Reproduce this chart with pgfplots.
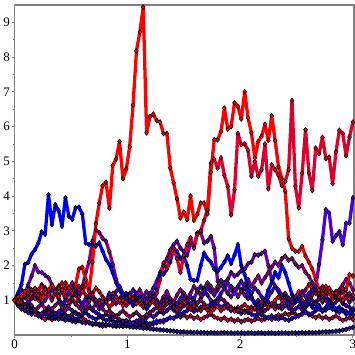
\documentclass[border=0pt]{standalone}
\usepackage{fontspec}
\setmainfont{Liberation Serif}
\usepackage{pgfplots}
\pgfplotsset{compat=1.18}
\definecolor{cA}{rgb}{1,0,0}
\definecolor{cB}{rgb}{0.86,0,0.18}
\definecolor{cC}{rgb}{0,0,1}
\definecolor{cD}{rgb}{0.55,0,0.5}
\definecolor{cE}{rgb}{0.42,0,0.68}
\definecolor{cF}{rgb}{0.3,0,0.85}
\definecolor{cG}{rgb}{0.12,0.08,0.55}
\definecolor{cH}{rgb}{0.78,0,0.3}
\definecolor{cI}{rgb}{0.6,0,0.42}
\definecolor{cJ}{rgb}{0.3,0,0.75}
\definecolor{cK}{rgb}{0.85,0,0.15}
\definecolor{cL}{rgb}{0.15,0,0.9}
\pgfplotsset{ser/.style={line width=3.3pt, color=#1, line join=round, mark=diamond*, mark size=2.5pt, mark options={draw=black, fill=#1, line width=0.55pt, solid}}}
\newcommand{\ser}[2]{\addplot[ser=#1] table[x expr=\coordindex*0.03, y index=0, header=false, row sep=\\] {#2\\};}
\begin{document}
\begin{tikzpicture}
\begin{axis}[scale only axis, width=339.3pt, height=330pt,
  xmin=0, xmax=3.01, ymin=0, ymax=9.5,
  axis line style={draw=gray, line width=1.3pt},
  xtick={0,1,2,3}, ytick={1,2,3,4,5,6,7,8,9},
  minor tick num=1, xtick pos=bottom, ytick pos=left, tick align=outside,
  major tick length=3pt, minor tick length=2pt,
  tick style={gray, line width=0.8pt},
  /pgf/number format/assume math mode=true,
  ticklabel style={font=\fontsize{13}{15}\selectfont, inner sep=1.5pt}]
\ser{cH}{1.00\\0.90\\0.95\\0.80\\0.85\\0.70\\0.60\\0.55\\0.50\\0.45\\
0.50\\0.44\\0.48\\0.55\\0.62\\0.58\\0.52\\0.60\\0.65\\0.59\\
0.50\\0.42\\0.35\\0.30\\0.32\\0.28\\0.25\\0.27\\0.30\\0.26\\
0.25\\0.28\\0.26\\0.30\\0.27\\0.25\\0.28\\0.30\\0.27\\0.25\\
0.28\\0.32\\0.35\\0.40\\0.38\\0.45\\0.50\\0.48\\0.55\\0.52\\
0.58\\0.50\\0.55\\0.48\\0.52\\0.45\\0.50\\0.55\\0.60\\0.52\\
0.48\\0.45\\0.50\\0.42\\0.46\\0.40\\0.44\\0.38\\0.42\\0.45\\
0.40\\0.44\\0.48\\0.42\\0.46\\0.50\\0.45\\0.52\\0.58\\0.55\\
0.62\\0.58\\0.65\\0.60\\0.55\\0.62\\0.68\\0.60\\0.55\\0.50\\
0.55\\0.48\\0.52\\0.45\\0.50\\0.55\\0.48\\0.42\\0.46\\0.50\\0.45}
\ser{cG}{1.00\\0.85\\0.90\\0.75\\0.80\\0.70\\0.72\\0.62\\0.58\\0.65\\
0.55\\0.49\\0.52\\0.45\\0.48\\0.42\\0.44\\0.40\\0.38\\0.41\\
0.36\\0.35\\0.37\\0.33\\0.34\\0.31\\0.32\\0.29\\0.30\\0.27\\
0.28\\0.26\\0.25\\0.26\\0.24\\0.23\\0.22\\0.21\\0.20\\0.19\\
0.18\\0.17\\0.16\\0.15\\0.14\\0.13\\0.12\\0.11\\0.10\\0.09\\
0.09\\0.08\\0.08\\0.07\\0.08\\0.07\\0.07\\0.06\\0.07\\0.06\\
0.06\\0.06\\0.07\\0.06\\0.06\\0.05\\0.06\\0.06\\0.05\\0.06\\
0.06\\0.05\\0.06\\0.06\\0.05\\0.06\\0.06\\0.05\\0.06\\0.06\\
0.06\\0.05\\0.06\\0.06\\0.06\\0.07\\0.06\\0.07\\0.07\\0.07\\
0.08\\0.08\\0.09\\0.09\\0.10\\0.11\\0.12\\0.14\\0.16\\0.19\\0.22}
\ser{cL}{1.00\\0.85\\0.75\\0.88\\0.95\\0.80\\0.70\\0.62\\0.55\\0.60\\
0.68\\0.60\\0.52\\0.58\\0.65\\0.55\\0.48\\0.52\\0.45\\0.50\\
0.58\\0.65\\0.55\\0.50\\0.45\\0.52\\0.48\\0.42\\0.45\\0.40\\
0.36\\0.40\\0.35\\0.32\\0.30\\0.33\\0.30\\0.34\\0.38\\0.35\\
0.32\\0.36\\0.40\\0.38\\0.42\\0.45\\0.50\\0.48\\0.55\\0.60\\
0.65\\0.70\\0.75\\0.68\\0.72\\0.80\\0.85\\0.78\\0.90\\0.95\\
0.88\\0.80\\0.85\\0.78\\0.70\\0.75\\0.68\\0.62\\0.70\\0.65\\
0.60\\0.55\\0.62\\0.58\\0.52\\0.50\\0.55\\0.48\\0.45\\0.50\\
0.45\\0.42\\0.48\\0.52\\0.55\\0.60\\0.65\\0.58\\0.62\\0.70\\
0.75\\0.68\\0.72\\0.80\\0.75\\0.70\\0.65\\0.72\\0.68\\0.62\\0.58}
\ser{cJ}{1.00\\0.90\\0.80\\0.70\\0.65\\0.60\\0.68\\0.58\\0.62\\0.72\\
0.80\\0.70\\0.62\\0.68\\0.75\\0.85\\0.78\\0.70\\0.62\\0.55\\
0.62\\0.70\\0.80\\0.72\\0.65\\0.58\\0.52\\0.60\\0.55\\0.48\\
0.52\\0.45\\0.40\\0.42\\0.38\\0.35\\0.40\\0.45\\0.42\\0.50\\
0.58\\0.52\\0.60\\0.68\\0.62\\0.70\\0.80\\0.72\\0.65\\0.75\\
0.85\\0.95\\1.10\\1.00\\0.90\\1.05\\1.20\\1.35\\1.25\\1.15\\
1.30\\1.45\\1.35\\1.20\\1.10\\1.25\\1.40\\1.30\\1.15\\1.05\\
1.20\\1.35\\1.25\\1.10\\1.00\\0.95\\0.85\\0.90\\0.80\\0.75\\
0.85\\0.78\\0.70\\0.75\\0.82\\0.72\\0.80\\0.90\\0.85\\0.95\\
1.05\\0.95\\1.10\\1.00\\0.88\\0.95\\1.05\\0.90\\0.85\\0.80\\0.70}
\ser{cI}{1.00\\1.10\\0.90\\0.80\\0.95\\0.85\\0.70\\0.80\\0.90\\0.75\\
0.65\\0.75\\0.85\\0.95\\0.80\\0.70\\0.85\\1.00\\0.90\\0.80\\
0.70\\0.80\\0.95\\1.10\\1.00\\0.85\\0.75\\0.65\\0.70\\0.60\\
0.55\\0.62\\0.70\\0.60\\0.52\\0.58\\0.65\\0.55\\0.50\\0.58\\
0.65\\0.72\\0.80\\0.70\\0.78\\0.90\\1.00\\0.92\\0.85\\0.95\\
1.05\\0.95\\0.88\\0.80\\0.92\\1.00\\0.90\\0.82\\0.75\\0.85\\
0.95\\1.05\\0.98\\0.88\\0.80\\0.72\\0.80\\0.70\\0.65\\0.72\\
0.80\\0.75\\0.68\\0.62\\0.70\\0.78\\0.85\\0.75\\0.82\\0.90\\
1.00\\0.92\\0.85\\0.95\\1.10\\1.00\\0.90\\1.05\\1.15\\1.25\\
1.10\\1.00\\1.15\\1.30\\1.20\\1.05\\1.15\\1.25\\1.10\\0.95\\1.05}
\ser{cK}{1.00\\1.15\\1.30\\1.20\\1.40\\1.25\\1.10\\1.30\\1.45\\1.35\\
1.20\\1.05\\1.25\\1.40\\1.50\\1.35\\1.20\\1.10\\1.25\\1.40\\
1.30\\1.15\\1.00\\1.20\\1.35\\1.25\\1.10\\0.95\\1.05\\1.20\\
1.10\\0.95\\1.00\\0.85\\0.95\\1.10\\1.00\\0.90\\0.80\\0.92\\
1.05\\0.95\\0.85\\0.78\\0.90\\1.00\\0.88\\0.80\\0.72\\0.85\\
0.95\\0.82\\0.75\\0.85\\0.78\\0.70\\0.80\\0.72\\0.65\\0.75\\
0.82\\0.70\\0.78\\0.85\\0.75\\0.68\\0.72\\0.80\\0.88\\0.78\\
0.70\\0.78\\0.85\\0.95\\0.88\\0.80\\0.90\\1.00\\1.10\\1.00\\
1.15\\1.05\\0.95\\1.10\\1.25\\1.15\\1.30\\1.45\\1.35\\1.20\\
1.30\\1.40\\1.25\\1.35\\1.20\\1.10\\1.25\\1.35\\1.20\\1.05\\1.15}
\ser{cD}{1.00\\0.90\\1.05\\1.20\\1.10\\1.30\\1.15\\1.00\\1.20\\1.35\\
1.20\\1.05\\1.25\\1.40\\1.30\\1.15\\1.35\\1.50\\1.30\\1.20\\
1.40\\1.80\\2.10\\2.70\\3.03\\2.95\\2.78\\2.70\\2.40\\2.03\\
1.60\\1.30\\1.10\\1.05\\1.20\\1.00\\1.15\\1.30\\1.10\\0.95\\
1.05\\1.20\\1.00\\0.90\\1.10\\1.25\\1.05\\0.95\\1.15\\1.30\\
1.20\\1.05\\1.20\\1.40\\1.30\\1.15\\1.35\\1.50\\1.40\\1.25\\
1.40\\1.55\\1.35\\1.20\\1.40\\1.30\\1.10\\1.25\\1.45\\1.60\\
1.40\\1.55\\1.70\\1.50\\1.65\\1.80\\1.95\\2.10\\2.00\\2.20\\
2.27\\2.15\\2.20\\2.05\\1.95\\2.00\\1.80\\1.69\\1.50\\1.30\\
1.20\\1.35\\1.10\\1.25\\1.05\\1.15\\1.30\\1.45\\1.60\\1.50\\1.30}
\ser{cE}{1.00\\1.10\\0.95\\1.20\\1.45\\1.70\\2.00\\1.82\\1.80\\1.72\\
1.65\\1.45\\1.30\\1.15\\1.25\\1.05\\0.95\\1.10\\1.20\\1.00\\
0.90\\1.05\\0.85\\0.75\\0.90\\1.00\\0.85\\0.95\\1.10\\1.00\\
0.90\\1.05\\1.20\\1.10\\0.95\\1.05\\1.15\\1.00\\1.10\\1.25\\
1.15\\1.35\\1.55\\1.80\\2.00\\2.20\\2.45\\2.60\\2.70\\2.50\\
2.40\\2.30\\2.65\\2.55\\2.94\\2.96\\2.65\\2.70\\2.84\\2.50\\
1.55\\1.57\\1.50\\1.60\\1.80\\1.70\\1.75\\1.85\\1.90\\2.05\\
2.10\\2.31\\2.30\\2.35\\2.41\\2.00\\1.60\\1.40\\1.25\\1.10\\
1.20\\1.05\\0.95\\1.10\\1.00\\0.85\\0.95\\1.10\\1.00\\0.90\\
1.05\\1.15\\1.00\\0.90\\1.10\\1.25\\1.05\\0.95\\1.10\\1.20\\1.05}
\ser{cF}{1.00\\1.15\\1.30\\1.10\\0.95\\1.05\\1.25\\1.10\\0.90\\1.00\\
1.15\\1.30\\1.20\\1.05\\0.90\\1.00\\1.20\\1.35\\1.15\\1.00\\
0.85\\1.00\\1.15\\1.05\\0.90\\0.75\\0.85\\1.00\\1.20\\1.10\\
1.25\\1.40\\1.20\\1.05\\1.15\\1.30\\1.20\\1.00\\0.90\\1.05\\
1.20\\1.10\\0.95\\0.85\\1.00\\1.10\\0.95\\0.80\\0.90\\1.05\\
1.20\\1.00\\0.90\\1.05\\1.25\\1.40\\1.30\\1.15\\1.00\\0.90\\
1.05\\1.20\\1.35\\1.50\\1.30\\1.20\\1.40\\1.55\\1.35\\1.20\\
1.05\\0.90\\1.00\\0.85\\0.95\\1.10\\1.25\\1.40\\1.30\\1.15\\
1.00\\0.90\\1.05\\0.95\\1.10\\1.25\\1.10\\1.20\\1.30\\1.40\\
2.03\\2.74\\3.61\\3.51\\2.70\\2.86\\2.98\\2.60\\3.22\\3.22\\3.95}
\ser{cC}{1.02\\1.21\\1.45\\2.03\\2.09\\2.33\\2.46\\2.65\\2.97\\2.90\\
4.04\\3.18\\3.75\\3.58\\3.13\\3.95\\3.42\\3.33\\3.66\\3.68\\
3.48\\2.65\\2.60\\2.60\\2.56\\2.65\\2.41\\2.17\\2.03\\1.79\\
1.50\\1.30\\1.16\\1.20\\1.00\\0.85\\0.95\\1.10\\0.90\\0.75\\
0.90\\1.02\\1.30\\1.74\\1.75\\1.90\\2.10\\2.50\\2.40\\2.20\\
2.27\\2.00\\1.60\\1.57\\1.58\\2.00\\2.36\\2.20\\2.10\\1.90\\
1.83\\1.95\\2.10\\2.28\\2.06\\2.30\\2.60\\2.00\\1.74\\1.40\\
1.10\\0.92\\0.80\\0.73\\1.00\\1.30\\1.50\\1.80\\1.65\\2.00\\
1.80\\1.50\\1.16\\0.95\\1.00\\0.90\\0.85\\0.95\\0.80\\0.75\\
0.85\\0.70\\0.80\\0.95\\0.85\\0.75\\0.80\\0.70\\0.60\\0.64\\0.75}
\ser{cB}{1.00\\1.10\\0.95\\1.15\\1.30\\1.20\\1.05\\1.25\\1.40\\1.30\\
1.15\\1.00\\1.20\\1.35\\1.25\\1.10\\0.95\\1.05\\0.90\\1.10\\
1.25\\1.45\\1.30\\1.15\\1.00\\0.90\\1.05\\0.95\\0.80\\0.90\\
1.10\\1.00\\0.85\\0.95\\1.10\\1.05\\0.90\\1.00\\0.85\\0.95\\
0.90\\1.00\\1.20\\1.60\\2.07\\1.90\\2.30\\2.50\\2.20\\1.80\\
2.30\\2.60\\2.80\\2.50\\2.90\\3.00\\3.30\\3.60\\4.95\\5.06\\
4.80\\5.10\\4.60\\4.28\\3.46\\4.18\\5.80\\5.48\\5.50\\5.32\\
4.57\\5.00\\4.57\\4.76\\5.50\\4.21\\4.90\\4.76\\4.60\\4.30\\
4.42\\4.76\\6.75\\4.28\\3.66\\4.66\\5.91\\4.66\\4.16\\5.38\\
5.22\\5.69\\5.08\\5.12\\4.36\\5.27\\5.89\\5.80\\5.16\\5.70\\6.13}
\ser{cA}{1.00\\0.95\\1.10\\1.25\\1.05\\1.20\\1.35\\1.15\\1.00\\1.20\\
1.30\\1.45\\1.25\\1.10\\1.30\\1.50\\1.35\\1.20\\1.45\\1.90\\
1.95\\1.60\\1.25\\2.10\\3.20\\3.80\\4.30\\4.40\\3.65\\4.88\\
5.07\\5.57\\4.50\\4.78\\5.42\\6.62\\8.18\\8.72\\9.44\\5.82\\
6.29\\6.36\\6.17\\6.13\\5.80\\5.80\\4.81\\4.38\\3.92\\3.37\\
3.54\\3.32\\4.00\\3.30\\3.48\\3.80\\3.80\\3.49\\4.69\\5.62\\
5.62\\5.86\\6.53\\5.93\\6.00\\6.68\\6.58\\6.22\\7.00\\6.25\\
5.82\\5.10\\5.57\\5.72\\6.07\\5.60\\6.31\\5.60\\4.84\\4.50\\
4.14\\2.77\\2.50\\2.41\\2.41\\2.55\\2.27\\2.10\\1.90\\1.60\\
1.30\\1.20\\1.40\\1.25\\1.02\\1.20\\1.10\\1.00\\1.30\\1.74\\1.70}
\end{axis}
\pgfresetboundingbox
\path[use as bounding box] (-14.7pt,-19.6pt) rectangle (340.3pt,335pt);
\end{tikzpicture}
\end{document}
